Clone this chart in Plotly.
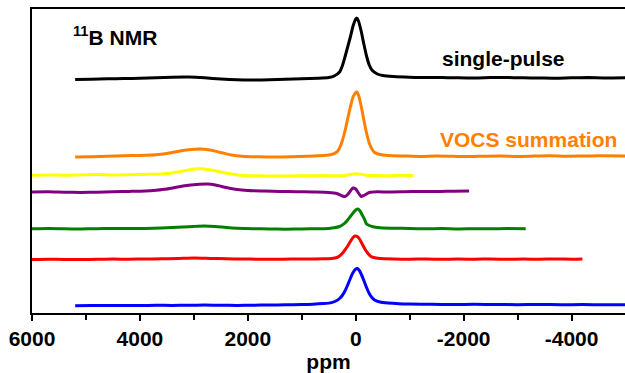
import plotly.graph_objects as go

# ---- data (ppm, intensity in plot units; traces are vertically offset) ----
ppm_black = [5200, 4900, 4600, 4300, 4000, 3700, 3400, 3100, 2800, 2500, 2200, 1900, 1600, 1300, 1000, 700,
             500, 400, 300, 250, 200, 150, 100, 50, 0, -20, -50, -100, -150, -200, -250, -300, -400, -500,
             -700, -1000, -1300, -1600, -1900, -2200, -2500, -2800, -3100, -3400, -3700, -4000, -4300, -4600, -5000]
int_black = [233.5, 233.8, 234.2, 234.4, 234.8, 235.3, 235.8, 235.9, 235.2, 234.0, 233.2, 233.0, 233.3, 233.8, 234.3, 234.8,
             235.5, 237, 241, 247, 256, 266, 276, 287, 294, 295, 292, 282, 269, 257, 248, 243, 239, 237.5,
             236.5, 235.8, 235.4, 235.6, 235.2, 235.0, 235.4, 235.6, 235.2, 235.0, 234.8, 235.2, 235.4, 235.1, 235.3]

ppm_orange = [5200, 4900, 4600, 4300, 4000, 3700, 3500, 3300, 3100, 2900, 2700, 2500, 2300, 2100, 1800, 1500, 1200,
              900, 600, 450, 350, 300, 250, 200, 150, 100, 50, 0, -20, -50, -100, -150, -200, -250, -300, -350,
              -450, -600, -900, -1200, -1500, -1800, -2100, -2400, -2700, -3000, -3300, -3600, -3900, -4200, -4500, -5000]
int_orange = [156.0, 156.3, 156.8, 157.3, 157.6, 158.2, 159.5, 161.5, 163.2, 164.0, 163.0, 160.5, 158.0, 156.8, 156.2, 156.0, 156.3,
              156.8, 157.5, 158.5, 161, 165, 172, 182, 194, 206, 216, 220.5, 221, 218, 207, 193, 180, 170, 164, 160.5,
              158.5, 157.5, 157.0, 156.6, 157.0, 156.7, 156.4, 156.8, 157.0, 156.6, 156.9, 157.2, 156.8, 157.0, 157.2, 157.0]

ppm_yellow = [6000, 5700, 5400, 5100, 4800, 4500, 4200, 3900, 3600, 3400, 3200, 3000, 2850, 2700, 2500, 2300, 2100,
              1800, 1500, 1200, 900, 600, 400, 200, 100, 0, -100, -200, -400, -600, -800, -1070]
int_yellow = [137.8, 138.1, 137.7, 138.1, 138.4, 138.0, 138.3, 138.6, 139.0, 140.0, 142.0, 144.0, 144.3, 143.2, 141.0, 139.0, 137.6,
              137.2, 137.0, 137.0, 137.3, 137.4, 137.2, 137.5, 138.4, 139.3, 138.8, 137.8, 137.5, 137.3, 137.7, 137.4]

ppm_purple = [6000, 5700, 5400, 5100, 4800, 4500, 4200, 3900, 3700, 3500, 3300, 3100, 2900, 2750, 2600, 2400, 2200,
              2000, 1700, 1400, 1100, 800, 500, 350, 250, 200, 150, 100, 50, 0, -50, -100, -150, -250, -400,
              -600, -900, -1200, -1500, -1800, -2100]
int_purple = [121.0, 121.2, 120.8, 120.6, 120.8, 121.3, 121.6, 122.0, 122.8, 124.0, 126.0, 127.8, 128.8, 129.0, 128.0, 125.5, 123.5,
              122.5, 122.0, 121.6, 121.3, 121.0, 120.6, 119.5, 117.0, 116.5, 118.5, 122.0, 125.0, 124.0, 120.0, 116.5, 117.5, 120.5, 121.2,
              121.0, 121.3, 121.6, 121.4, 121.8, 122.0]

ppm_green = [6000, 5700, 5400, 5100, 4800, 4500, 4200, 3900, 3600, 3400, 3200, 3000, 2800, 2600, 2400, 2200, 1900,
             1600, 1300, 1000, 700, 500, 400, 300, 250, 200, 150, 100, 50, 0, -40, -80, -120, -160, -200, -250,
             -300, -400, -500, -700, -1000, -1300, -1600, -1900, -2200, -2500, -2800, -3150]
int_green = [84.2, 84.5, 84.2, 84.0, 84.3, 84.6, 84.4, 84.5, 85.0, 85.5, 86.0, 86.6, 87.0, 86.5, 85.5, 84.8, 84.3,
             84.0, 83.8, 84.0, 84.3, 84.6, 85.2, 86.5, 88.0, 90.0, 93.0, 96.5, 100.0, 103.0, 104.0, 102.0, 98.0, 94.0, 89.0, 87.5,
             86.5, 85.5, 85.0, 84.8, 84.5, 84.2, 84.4, 84.0, 84.3, 84.2, 84.5, 84.3]

ppm_red = [6000, 5700, 5400, 5100, 4800, 4500, 4200, 3900, 3600, 3300, 3000, 2700, 2400, 2100, 1800, 1500, 1200,
           900, 600, 450, 350, 300, 250, 200, 150, 100, 50, 10, -30, -70, -120, -170, -220, -270, -330,
           -450, -700, -1000, -1300, -1600, -1900, -2200, -2500, -2800, -3100, -3400, -3700, -4000, -4200]
int_red = [53.5, 53.8, 53.6, 53.4, 53.7, 53.9, 53.8, 54.0, 54.2, 54.5, 55.0, 54.6, 54.2, 54.0, 53.8, 53.7, 53.9,
           54.0, 54.2, 54.6, 55.5, 57.0, 59.5, 63.0, 67.0, 71.5, 75.5, 77.0, 76.5, 74.0, 69.0, 64.0, 60.0, 57.0, 55.5,
           54.5, 54.0, 53.8, 54.0, 53.7, 53.9, 53.8, 54.0, 53.7, 53.9, 53.8, 54.0, 53.8, 54.0]

ppm_blue = [5200, 4900, 4600, 4300, 4000, 3700, 3400, 3100, 2800, 2500, 2200, 1900, 1600, 1300, 1000, 800, 600,
            450, 350, 300, 250, 200, 150, 100, 50, 0, -30, -60, -100, -150, -200, -250, -300, -350, -450,
            -600, -800, -1000, -1400, -1800, -2200, -2600, -3000, -3400, -3800, -4200, -4600, -5000]
int_blue = [7.3, 7.5, 7.6, 7.4, 7.5, 7.7, 7.6, 7.8, 7.9, 7.7, 7.6, 7.8, 8.0, 8.2, 8.4, 8.7, 9.4,
            10.4, 12.5, 14.5, 17.5, 22.0, 28.0, 34.5, 40.5, 44.0, 44.5, 43.0, 39.0, 32.5, 25.5, 19.5, 15.5, 13.0, 11.0,
            10.0, 9.3, 9.0, 8.7, 8.5, 8.7, 8.5, 8.3, 8.5, 8.3, 8.4, 8.2, 8.3]

series = [
    ("single-pulse", ppm_black, int_black, "#000000"),
    ("VOCS summation", ppm_orange, int_orange, "#FF8000"),
    ("yellow", ppm_yellow, int_yellow, "#FFFF00"),
    ("purple", ppm_purple, int_purple, "#800080"),
    ("green", ppm_green, int_green, "#008000"),
    ("red", ppm_red, int_red, "#FF0000"),
    ("blue", ppm_blue, int_blue, "#0000FF"),
]

x_ticks = [6000, 4000, 2000, 0, -2000, -4000]
x_tick_text = ["6000", "4000", "2000", "0", "-2000", "-4000"]

FONT = "Arial, 'Liberation Sans', sans-serif"

fig = go.Figure()
for name, xs, ys, col in series:
    fig.add_trace(go.Scatter(x=xs, y=ys, mode="lines", name=name,
                             line=dict(color=col, width=3, shape="spline", smoothing=0.6),
                             showlegend=False, hoverinfo="skip"))

W, H = 625, 373
L, R, T, B = 32, 0, 9, 60
pw, ph = W - L - R, H - T - B

def px(x):
    return (x - L) / pw

def py(y):
    return (H - B - y) / ph

fig.add_annotation(text="<sup>11</sup>B NMR", xref="paper", yref="paper", x=px(71), y=py(36),
                   xanchor="left", yanchor="middle", showarrow=False,
                   font=dict(family=FONT, size=21, color="#000000"))
fig.add_annotation(text="single-pulse", xref="paper", yref="paper", x=px(440), y=py(58),
                   xanchor="left", yanchor="middle", showarrow=False,
                   font=dict(family=FONT, size=21, color="#000000"))
fig.add_annotation(text="VOCS summation", xref="paper", yref="paper", x=px(438), y=py(139),
                   xanchor="left", yanchor="middle", showarrow=False,
                   font=dict(family=FONT, size=21, color="#FF8000"))

fig.update_layout(
    width=W, height=H,
    margin=dict(l=L, r=R, t=T, b=B, pad=0),
    paper_bgcolor="white", plot_bgcolor="white",
    font=dict(family=FONT, size=21, color="#000000", weight="bold"),
    xaxis=dict(range=[6000, -4990], showgrid=False, zeroline=False,
               showline=True, linecolor="#000000", linewidth=2, mirror=True,
               ticks="outside", ticklen=6, tickwidth=2, tickcolor="#000000",
               tickvals=x_ticks, ticktext=x_tick_text,
               tickfont=dict(family=FONT, size=21, color="#000000", weight="bold"),
               minor=dict(ticks="outside", ticklen=5, tickwidth=2, tickcolor="#000000", dtick=1000, showgrid=False),
               title=dict(text="ppm", standoff=2,
                          font=dict(family=FONT, size=21, color="#000000", weight="bold"))),
    yaxis=dict(range=[0, 304], showgrid=False, zeroline=False,
               showline=True, linecolor="#000000", linewidth=2, mirror=False,
               showticklabels=False, ticks=""),
)

fig.write_html("out.html")
